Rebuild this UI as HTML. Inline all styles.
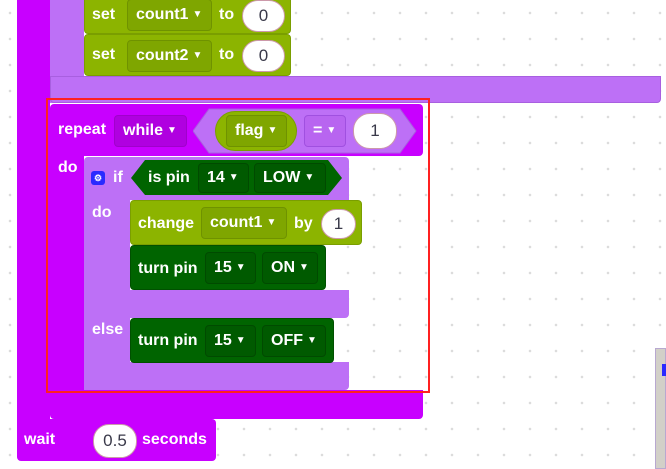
<!DOCTYPE html>
<html><head><meta charset="utf-8"><style>
html,body{margin:0;padding:0}
body{width:666px;height:469px;position:relative;overflow:hidden;background-color:#fff;
background-image:radial-gradient(circle,#dcdcdc 1.1px,transparent 1.5px);background-size:26px 26px;background-position:-3px 0px;
font-family:"Liberation Sans",sans-serif;font-weight:bold;font-size:16px;color:#fff}
.b{position:absolute;box-sizing:border-box}
.t{position:absolute;white-space:nowrap;line-height:18px}
.dm{background:#c800ff}
.lp{background:#bd70f6}
.g{background:#8cb400;border:1px solid #7a9e00;border-radius:4px}
.dg{background:#006400;border:1px solid #005000;border-radius:4px}
.f{position:absolute;box-sizing:border-box;border-radius:4px;line-height:30px;height:32px;padding-left:8px;white-space:nowrap}
.fg{background:#7fa600;border:1px solid #6f9200}
.fd{background:#005a00;border:1px solid #004a00}
.fp{background:#b000e0;border:1px solid #a000cc}
.ov{position:absolute;background:#fff;color:#3a3a4a;border-radius:16px;text-align:center;font-weight:normal;font-size:17px;line-height:30px;height:30px;border:1px solid #c9a}
.ar{font-size:10px;margin-left:4px;vertical-align:2px}
</style></head><body>
<div class="b dm" style="left:17px;top:0;width:33px;height:460px;border-radius:0 0 0 4px"></div>
<div class="b lp" style="left:50px;top:0;width:34px;height:103px"></div>
<div class="b lp" style="left:50px;top:76px;width:611px;height:27px;border-radius:0 0 4px 4px;border:1px solid #a85fe0"></div>
<div class="b g" style="left:84px;top:-4px;width:207px;height:38px"></div>
<div class="t" style="left:92px;top:6px">set</div>
<div class="f fg" style="left:127px;top:-1px;width:85px">count1<span class="ar">▼</span></div>
<div class="t" style="left:219px;top:6px">to</div>
<div class="ov" style="left:242px;top:0px;width:41px">0</div>
<div class="b g" style="left:84px;top:34px;width:207px;height:42px"></div>
<div class="t" style="left:92px;top:46px">set</div>
<div class="f fg" style="left:127px;top:40px;width:85px">count2<span class="ar">▼</span></div>
<div class="t" style="left:219px;top:46px">to</div>
<div class="ov" style="left:242px;top:40px;width:41px">0</div>
<div class="b dm" style="left:50px;top:104px;width:373px;height:52px;border-radius:4px"></div>
<div class="b dm" style="left:50px;top:150px;width:34px;height:250px"></div>
<div class="b dm" style="left:50px;top:390px;width:373px;height:29px;border-radius:0 0 4px 4px"></div>
<div class="t" style="left:58px;top:121px">repeat</div>
<div class="f fp" style="left:114px;top:115px;width:73px">while<span class="ar">▼</span></div>
<svg class="b" style="left:193px;top:108px" width="224" height="46"><polygon points="0,23 16,1 207,1 223,23 207,45 16,45" fill="#bd70f6" stroke="#a85fe0"/></svg>
<div class="b" style="left:215px;top:111px;width:82px;height:40px;background:#8cb400;border:1px solid #7a9e00;border-radius:20px"></div>
<div class="f fg" style="left:226px;top:115px;width:61px">flag<span class="ar">▼</span></div>
<div class="f" style="left:304px;top:115px;width:42px;background:#b865f0;border:1px solid #a050e0">=<span class="ar">▼</span></div>
<div class="ov" style="left:353px;top:113px;width:42px;height:34px;line-height:34px;border-radius:17px">1</div>
<div class="t" style="left:58px;top:159px">do</div>
<div class="b lp" style="left:84px;top:157px;width:265px;height:43px;border-radius:4px 4px 0 0"></div>
<div class="b lp" style="left:84px;top:199px;width:46px;height:191px"></div>
<div class="b lp" style="left:84px;top:290px;width:265px;height:28px;border-radius:0 0 4px 0"></div>
<div class="b lp" style="left:84px;top:362px;width:265px;height:28px;border-radius:0 0 4px 4px"></div>
<div class="b" style="left:91px;top:171px;width:14px;height:14px;background:#2a2aff;border-radius:3px;font-size:9px;line-height:14px;text-align:center">⚙</div>
<div class="t" style="left:113px;top:169px">if</div>
<svg class="b" style="left:131px;top:160px" width="212" height="36"><polygon points="0,18 14,0 197,0 211,18 197,35 14,35" fill="#006400"/></svg>
<div class="t" style="left:148px;top:169px">is pin</div>
<div class="f fd" style="left:198px;top:163px;width:51px;height:30px;line-height:28px">14<span class="ar">▼</span></div>
<div class="f fd" style="left:254px;top:163px;width:72px;height:30px;line-height:28px">LOW<span class="ar">▼</span></div>
<div class="t" style="left:92px;top:204px">do</div>
<div class="b g" style="left:130px;top:200px;width:232px;height:45px"></div>
<div class="t" style="left:138px;top:215px">change</div>
<div class="f fg" style="left:201px;top:207px;width:86px">count1<span class="ar">▼</span></div>
<div class="t" style="left:294px;top:215px">by</div>
<div class="ov" style="left:321px;top:209px;width:33px;height:28px;line-height:28px">1</div>
<div class="b dg" style="left:130px;top:245px;width:196px;height:45px"></div>
<div class="t" style="left:138px;top:260px">turn pin</div>
<div class="f fd" style="left:205px;top:252px;width:51px">15<span class="ar">▼</span></div>
<div class="f fd" style="left:262px;top:252px;width:56px">ON<span class="ar">▼</span></div>
<div class="t" style="left:92px;top:321px">else</div>
<div class="b dg" style="left:130px;top:318px;width:204px;height:45px"></div>
<div class="t" style="left:138px;top:332px">turn pin</div>
<div class="f fd" style="left:205px;top:325px;width:51px">15<span class="ar">▼</span></div>
<div class="f fd" style="left:262px;top:325px;width:64px">OFF<span class="ar">▼</span></div>
<div class="b dm" style="left:17px;top:419px;width:199px;height:42px;border-radius:0 4px 4px 4px"></div>
<div class="t" style="left:24px;top:431px">wait</div>
<div class="ov" style="left:93px;top:424px;width:42px;height:32px;line-height:32px">0.5</div>
<div class="t" style="left:142px;top:431px">seconds</div>
<div class="b" style="left:46px;top:98px;width:384px;height:295px;border:2px solid #ff2020"></div>
<div class="b" style="left:655px;top:348px;width:11px;height:121px;background:#d2d0c8;border:1px solid #b8a8d0"></div>
<div class="b" style="left:662px;top:364px;width:4px;height:12px;background:#2a2aff"></div>
</body></html>
